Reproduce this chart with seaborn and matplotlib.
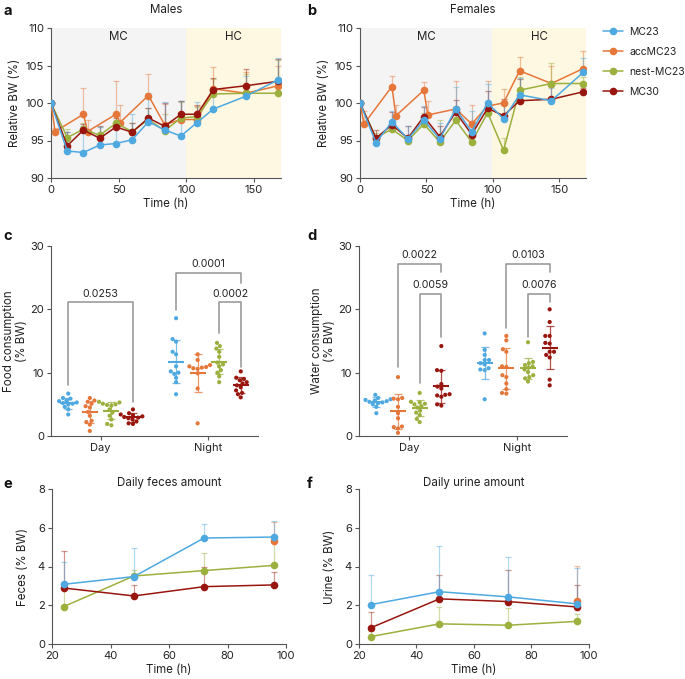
import numpy as np
import pandas as pd
import matplotlib
matplotlib.use('Agg')
from matplotlib import pyplot as plt
from matplotlib.lines import Line2D
import seaborn as sns

# groups and colours
groups = ['MC23', 'accMC23', 'nest-MC23', 'MC30']
draw_order = ['accMC23', 'nest-MC23', 'MC30', 'MC23']
palette = {'MC23': '#4FA9E1', 'accMC23': '#E5773A', 'nest-MC23': '#9CB03E', 'MC30': '#98160F'}

# relative body weight (%), time in h
time_main = [0, 12, 24, 36, 48, 60, 72, 84, 96, 108, 120, 144, 168]
time_acc = [0, 3, 24, 27, 48, 51, 72, 84, 96, 108, 120, 144, 168]

males_mc23 = [100, 93.6, 93.4, 94.4, 94.6, 95.1, 97.5, 96.4, 95.6, 97.4, 99.2, 100.9, 103.1]
males_mc23_sd = [0, 2.5, 3.6, 2.4, 2.9, 3.5, 3.9, 3.8, 4.7, 2.7, 2.0, 2.7, 2.9]
males_acc = [100, 96.2, 98.5, 96.2, 98.5, 97.4, 101.0, 97.1, 97.8, 97.8, 101.9, 101.3, 102.3]
males_acc_sd = [0, 0.5, 3.5, 1.6, 4.5, 2.3, 2.9, 2.8, 2.5, 1.8, 2.9, 2.9, 2.6]
males_nest = [100, 95.4, 96.5, 95.7, 97.3, 96.2, 97.8, 96.3, 98.0, 98.2, 101.2, 101.3, 101.3]
males_nest_sd = [0, 1.2, 0.8, 1.1, 1.0, 1.2, 1.5, 2.3, 2.2, 1.3, 2.0, 2.6, 4.4]
males_mc30 = [100, 94.3, 96.4, 95.3, 96.8, 96.1, 98.0, 96.9, 98.5, 98.5, 101.8, 102.3, 102.9]
males_mc30_sd = [0, 1.9, 0.8, 1.7, 1.2, 1.3, 1.3, 3.1, 1.8, 1.2, 1.5, 2.2, 3.0]

females_mc23 = [100, 94.7, 97.5, 95.2, 97.7, 95.2, 99.2, 96.2, 100.0, 97.9, 101.1, 100.3, 104.1]
females_mc23_sd = [0, 0.8, 1.4, 1.7, 1.9, 2.1, 2.9, 2.8, 2.5, 1.9, 2.3, 1.7, 1.9]
females_acc = [100, 97.2, 102.2, 98.3, 101.7, 98.4, 99.2, 97.2, 99.6, 100.0, 104.3, 102.6, 104.6]
females_acc_sd = [0, 1.8, 1.4, 1.4, 1.1, 1.9, 3.8, 2.6, 3.3, 1.9, 1.9, 2.3, 2.4]
females_nest = [100, 95.4, 96.5, 95.0, 97.2, 94.8, 97.7, 94.8, 98.7, 93.7, 101.7, 102.6, 102.6]
females_nest_sd = [0, 0.6, 1.0, 0.8, 1.5, 2.9, 1.3, 1.0, 1.5, 1.7, 1.8, 2.8, 0.9]
females_mc30 = [100, 95.3, 97.1, 95.3, 98.2, 95.5, 98.8, 95.8, 99.3, 98.3, 100.3, 100.5, 101.5]
females_mc30_sd = [0, 1.1, 1.7, 1.7, 1.3, 1.5, 1.6, 1.8, 2.3, 2.2, 2.9, 1.8, 0.5]

# food consumption (% BW)
food_day_mc23 = [6.7, 6.0, 5.9, 5.6, 5.5, 5.3, 5.2, 5.1, 5.0, 4.6, 4.2, 3.4]
food_day_acc = [6.0, 5.6, 5.4, 5.1, 4.7, 4.5, 3.8, 3.2, 2.4, 2.2, 1.8, 0.8]
food_day_nest = [5.4, 5.3, 5.1, 5.0, 4.9, 4.8, 4.2, 3.7, 3.2, 2.6, 1.9, 1.7]
food_day_mc30 = [4.2, 3.6, 3.4, 3.3, 3.1, 3.0, 2.9, 2.8, 2.6, 2.3, 2.0, 1.9]
food_night_mc23 = [18.6, 15.3, 14.9, 13.3, 12.9, 11.0, 10.2, 10.0, 9.8, 9.2, 8.5, 6.6]
food_night_acc = [12.9, 12.0, 11.2, 11.0, 10.9, 10.8, 10.7, 10.6, 9.9, 7.5, 2.0]
food_night_nest = [14.7, 14.2, 13.8, 13.3, 12.5, 11.6, 11.0, 11.3, 10.4, 10.0, 9.4, 8.5]
food_night_mc30 = [10.2, 9.2, 9.0, 8.8, 8.5, 8.3, 8.0, 7.7, 7.2, 6.8, 6.6, 6.1]

# water consumption (% BW)
water_day_mc23 = [6.5, 6.0, 5.8, 5.7, 5.6, 5.5, 5.4, 5.3, 5.2, 5.0, 4.6, 3.6]
water_day_acc = [9.3, 6.0, 5.9, 5.8, 4.6, 3.6, 2.8, 1.5, 1.4, 1.2, 0.5]
water_day_nest = [6.8, 5.4, 5.3, 5.1, 5.0, 4.7, 4.5, 4.0, 3.7, 3.3, 2.7, 2.2]
water_day_mc30 = [14.2, 10.4, 10.3, 8.2, 7.8, 7.5, 6.6, 6.5, 6.4, 6.2, 5.0, 4.8]
water_night_mc23 = [16.2, 13.6, 12.8, 12.0, 12.0, 11.5, 11.3, 10.7, 10.5, 10.4, 5.8]
water_night_acc = [15.8, 15.1, 13.7, 13.3, 11.0, 10.9, 9.6, 9.3, 8.3, 7.4, 6.8, 6.7]
water_night_nest = [14.8, 11.7, 11.5, 11.2, 11.0, 10.8, 10.5, 10.1, 9.6, 9.3, 9.1, 8.6]
water_night_mc30 = [20.0, 18.0, 15.8, 15.8, 14.7, 14.6, 13.3, 13.3, 12.8, 12.4, 8.9, 8.0]

# significance brackets: (period, group1, group2, height, leg1 bottom, leg2 bottom, label)
food_brackets = [('Day', 'MC23', 'MC30', 21.1, 8.0, 5.4, '0.0253'),
                 ('Night', 'MC23', 'MC30', 25.7, 19.9, 24.2, '0.0001'),
                 ('Night', 'nest-MC23', 'MC30', 21.1, 16.2, 10.9, '0.0002')]
water_brackets = [('Day', 'accMC23', 'MC30', 27.2, 10.9, 25.9, '0.0022'),
                  ('Day', 'nest-MC23', 'MC30', 22.5, 8.3, 15.7, '0.0059'),
                  ('Night', 'accMC23', 'MC30', 27.2, 17.0, 25.9, '0.0103'),
                  ('Night', 'nest-MC23', 'MC30', 22.5, 15.7, 21.2, '0.0076')]

# daily feces / urine (% BW)
time_daily = [24, 48, 72, 96]
feces_mc23 = [3.08, 3.48, 5.47, 5.52]
feces_mc23_sd = [1.17, 1.45, 0.73, 0.83]
feces_acc = [np.nan, np.nan, np.nan, 5.32]
feces_acc_sd = [0, 0, 0, 1.0]
feces_nest = [1.93, 3.51, 3.79, 4.06]
feces_nest_sd = [0.95, 0.3, 0.91, 1.3]
feces_mc30 = [2.89, 2.48, 2.96, 3.05]
feces_mc30_sd = [1.93, 0.54, 1.04, 0.65]

urine_mc23 = [2.03, 2.70, 2.43, 2.07]
urine_mc23_sd = [1.54, 2.38, 2.04, 1.85]
urine_acc = [np.nan, np.nan, np.nan, 2.24]
urine_acc_sd = [0, 0, 0, 1.78]
urine_nest = [0.38, 1.04, 0.97, 1.17]
urine_nest_sd = [0.3, 0.86, 0.88, 0.4]
urine_mc30 = [0.83, 2.33, 2.19, 1.91]
urine_mc30_sd = [0.84, 1.22, 1.61, 1.14]

W, H = 685, 679
TXT = '#222222'
SPINE = '#555555'
FS_LAB = 8.3
FS_TICK = 8


def box(l, t, r, b):
    return [l / W, 1 - b / H, (r - l) / W, (b - t) / H]


def style(ax):
    sns.despine(ax=ax)
    for s in ['left', 'bottom']:
        ax.spines[s].set_color(SPINE)
        ax.spines[s].set_linewidth(0.8)
    ax.tick_params(colors=SPINE, labelcolor=TXT, labelsize=FS_TICK, length=3, width=0.8, pad=2)
    ax.grid(False)


def line_panel(ax, series, time_for):
    # error bars behind, lines on top
    for g in draw_order:
        mean, sd = series[g]
        t = time_for(g)
        ax.errorbar(t, mean, yerr=[np.zeros(len(sd)), sd], fmt='none', ecolor=palette[g],
                    alpha=0.45, capsize=2.5, elinewidth=0.9, capthick=0.9, zorder=2)
    for g in draw_order:
        mean, sd = series[g]
        df = pd.DataFrame({'time': time_for(g), 'value': mean}).dropna()
        sns.lineplot(data=df, x='time', y='value', color=palette[g], marker='o', markersize=5.5,
                     markeredgewidth=0, linewidth=1.1, ax=ax, zorder=3)


def bw_panel(ax, series, hc_start, title):
    ax.axvspan(0, hc_start, color='#F4F4F4', lw=0, zorder=0)
    ax.axvspan(hc_start, 170, color='#FEF7E2', lw=0, zorder=0)
    line_panel(ax, series, lambda g: time_acc if g == 'accMC23' else time_main)
    ax.set_xlim(0, 170)
    ax.set_ylim(90, 110)
    ax.set_xticks([0, 50, 100, 150])
    ax.set_yticks([90, 95, 100, 105, 110])
    ax.text(50, 108.8, 'MC', ha='center', va='center', fontsize=FS_LAB, color=TXT)
    ax.text(135, 108.8, 'HC', ha='center', va='center', fontsize=FS_LAB, color=TXT)
    ax.set_xlabel('Time (h)', fontsize=FS_LAB, color=TXT, labelpad=2)
    ax.set_ylabel('Relative BW (%)', fontsize=FS_LAB, color=TXT, labelpad=3)
    ax.set_title(title, fontsize=FS_LAB, color=TXT, pad=11)
    style(ax)


offsets = dict(zip(groups, [-0.3, -0.1, 0.1, 0.3]))
periods = ['Day', 'Night']


def dot_panel(ax, values, brackets, ylabel):
    rows = []
    for p in periods:
        for g in groups:
            for v in values[(p, g)]:
                rows.append((p, g, v))
    df = pd.DataFrame(rows, columns=['period', 'group', 'value'])
    sns.swarmplot(data=df, x='period', y='value', hue='group', order=periods, hue_order=groups,
                  palette=palette, dodge=True, size=3.0, legend=False, ax=ax, zorder=3)
    stats = df.groupby(['period', 'group'])['value'].agg(['mean', 'std'])
    for i, p in enumerate(periods):
        for g in groups:
            m, s = stats.loc[(p, g)]
            x = i + offsets[g]
            ax.errorbar(x, m, yerr=s, fmt='none', ecolor=palette[g], alpha=0.75,
                        capsize=2.8, elinewidth=0.9, capthick=0.9, zorder=4)
            ax.hlines(m, x - 0.075, x + 0.075, color=palette[g], lw=1.5, zorder=5)
    for p, g1, g2, h, b1, b2, lab in brackets:
        i = periods.index(p)
        x1, x2 = i + offsets[g1], i + offsets[g2]
        ax.plot([x1, x1, x2, x2], [b1, h, h, b2], color='#9C9C9C', lw=1.2, zorder=1)
        ax.text((x1 + x2) / 2, h + 0.6, lab, ha='center', va='bottom', fontsize=7.6, color=TXT)
    ax.set_xlim(-0.46, 1.46)
    ax.set_ylim(0, 30)
    ax.set_yticks([0, 10, 20, 30])
    ax.set_xlabel('')
    ax.set_ylabel(ylabel, fontsize=FS_LAB, color=TXT, labelpad=2, linespacing=1.05)
    style(ax)


def daily_panel(ax, series, title, ylabel):
    line_panel(ax, series, lambda g: time_daily)
    ax.set_xlim(20, 100)
    ax.set_ylim(0, 8)
    ax.set_xticks([20, 40, 60, 80, 100])
    ax.set_yticks([0, 2, 4, 6, 8])
    ax.set_xlabel('Time (h)', fontsize=FS_LAB, color=TXT, labelpad=2)
    ax.set_ylabel(ylabel, fontsize=FS_LAB, color=TXT, labelpad=6)
    ax.set_title(title, fontsize=FS_LAB, color=TXT, pad=2)
    style(ax)


sns.set_theme(style='ticks')
plt.rcParams['font.family'] = ['Inter', 'DejaVu Sans']

fig = plt.figure(figsize=(W / 100, H / 100), dpi=100)

ax_a = fig.add_axes(box(51, 28, 281, 178))
ax_b = fig.add_axes(box(360, 28, 586, 178))
ax_c = fig.add_axes(box(51, 246, 258, 436))
ax_d = fig.add_axes(box(359, 246, 567, 436))
ax_e = fig.add_axes(box(52, 489, 286, 644))
ax_f = fig.add_axes(box(359, 489, 589, 644))

bw_panel(ax_a, {'MC23': (males_mc23, males_mc23_sd), 'accMC23': (males_acc, males_acc_sd),
                'nest-MC23': (males_nest, males_nest_sd), 'MC30': (males_mc30, males_mc30_sd)},
         100, 'Males')
bw_panel(ax_b, {'MC23': (females_mc23, females_mc23_sd), 'accMC23': (females_acc, females_acc_sd),
                'nest-MC23': (females_nest, females_nest_sd), 'MC30': (females_mc30, females_mc30_sd)},
         99, 'Females')

dot_panel(ax_c, {('Day', 'MC23'): food_day_mc23, ('Day', 'accMC23'): food_day_acc,
                 ('Day', 'nest-MC23'): food_day_nest, ('Day', 'MC30'): food_day_mc30,
                 ('Night', 'MC23'): food_night_mc23, ('Night', 'accMC23'): food_night_acc,
                 ('Night', 'nest-MC23'): food_night_nest, ('Night', 'MC30'): food_night_mc30},
          food_brackets, 'Food consumption\n(% BW)')
dot_panel(ax_d, {('Day', 'MC23'): water_day_mc23, ('Day', 'accMC23'): water_day_acc,
                 ('Day', 'nest-MC23'): water_day_nest, ('Day', 'MC30'): water_day_mc30,
                 ('Night', 'MC23'): water_night_mc23, ('Night', 'accMC23'): water_night_acc,
                 ('Night', 'nest-MC23'): water_night_nest, ('Night', 'MC30'): water_night_mc30},
          water_brackets, 'Water consumption\n(% BW)')

daily_panel(ax_e, {'MC23': (feces_mc23, feces_mc23_sd), 'accMC23': (feces_acc, feces_acc_sd),
                   'nest-MC23': (feces_nest, feces_nest_sd), 'MC30': (feces_mc30, feces_mc30_sd)},
            'Daily feces amount', 'Feces (% BW)')
daily_panel(ax_f, {'MC23': (urine_mc23, urine_mc23_sd), 'accMC23': (urine_acc, urine_acc_sd),
                   'nest-MC23': (urine_nest, urine_nest_sd), 'MC30': (urine_mc30, urine_mc30_sd)},
            'Daily urine amount', 'Urine (% BW)')

handles = [Line2D([], [], color=palette[g], marker='o', markersize=5.5, markeredgewidth=0, lw=1.1)
           for g in groups]
fig.legend(handles, groups, loc='upper left', bbox_to_anchor=(603 / W, 1 - 27 / H), frameon=False,
           fontsize=7.5, labelspacing=0.95, handlelength=1.9, handletextpad=0.6, borderaxespad=0,
           borderpad=0, labelcolor=TXT)

for lab, (x, y) in zip('abcdef', [(3, 4), (307, 4), (3, 229), (307, 229), (3, 477), (307, 477)]):
    fig.text(x / W, 1 - y / H, lab, fontsize=10.5, fontweight='bold', va='top', ha='left', color='#111111')

fig.savefig('out.png', dpi=100)
